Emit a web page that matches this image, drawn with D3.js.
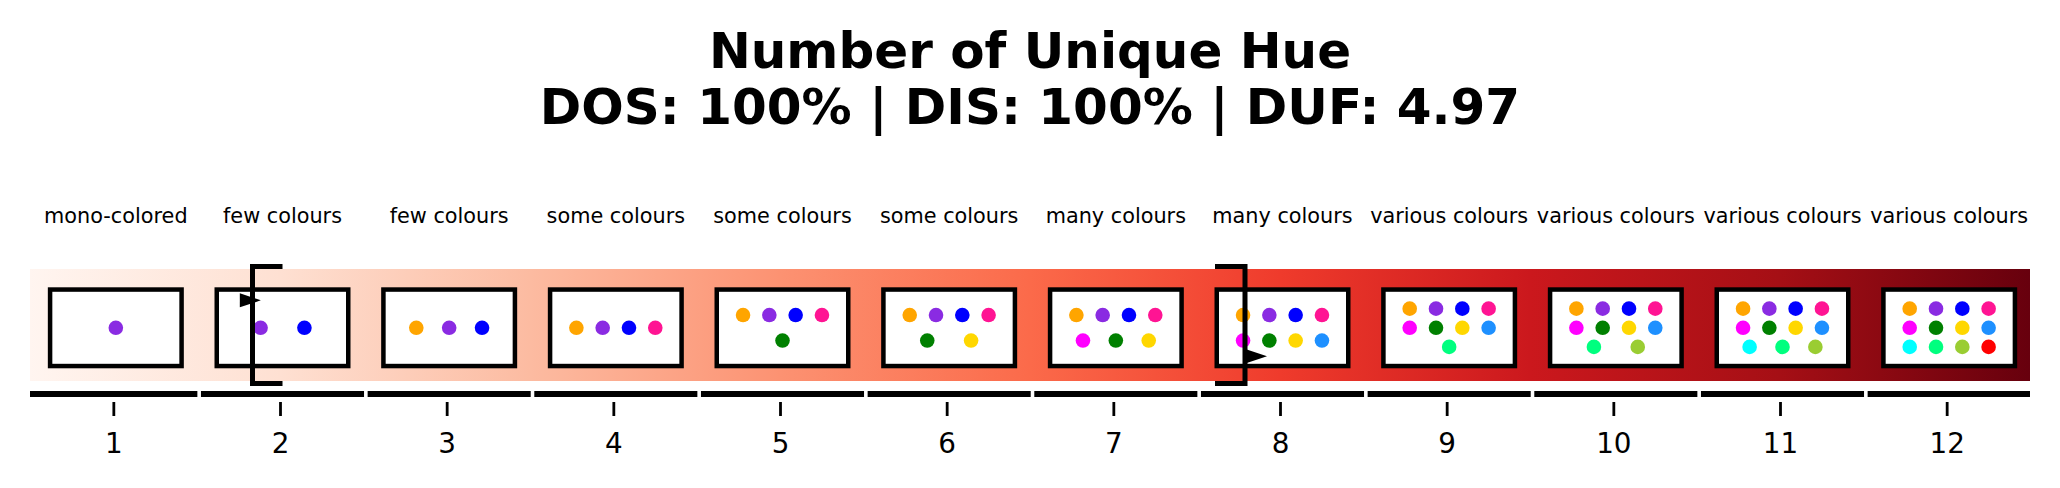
<!DOCTYPE html>
<html><head><meta charset="utf-8">
<script src="https://cdn.jsdelivr.net/npm/d3@7"></script>
<style>
body{margin:0;background:#fff}
svg{display:block}
text{font-family:"DejaVu Sans",sans-serif;fill:#000}
</style>
</head><body>
<script>
// ---------- data ----------
const titleLines = ["Number of Unique Hue", "DOS: 100% | DIS: 100% | DUF: 4.97"];
const categories = [1, 2, 3, 4, 5, 6, 7, 8, 9, 10, 11, 12];
const tickLabels = ["1", "2", "3", "4", "5", "6", "7", "8", "9", "10", "11", "12"];
const categoryLabels = ["mono-colored", "few colours", "few colours", "some colours", "some colours",
  "some colours", "many colours", "many colours", "various colours", "various colours",
  "various colours", "various colours"];
const hueSets = [
  ["blueviolet"],
  ["blueviolet", "blue"],
  ["orange", "blueviolet", "blue"],
  ["orange", "blueviolet", "blue", "deeppink"],
  ["orange", "blueviolet", "blue", "deeppink", "green"],
  ["orange", "blueviolet", "blue", "deeppink", "green", "gold"],
  ["orange", "blueviolet", "blue", "deeppink", "magenta", "green", "gold"],
  ["orange", "blueviolet", "blue", "deeppink", "magenta", "green", "gold", "dodgerblue"],
  ["orange", "blueviolet", "blue", "deeppink", "magenta", "green", "gold", "dodgerblue", "springgreen"],
  ["orange", "blueviolet", "blue", "deeppink", "magenta", "green", "gold", "dodgerblue", "springgreen", "yellowgreen"],
  ["orange", "blueviolet", "blue", "deeppink", "magenta", "green", "gold", "dodgerblue", "cyan", "springgreen", "yellowgreen"],
  ["orange", "blueviolet", "blue", "deeppink", "magenta", "green", "gold", "dodgerblue", "cyan", "springgreen", "yellowgreen", "red"]
];
const bracketX = [1.835, 7.79];      // left "[" and right "]"
const markerX = [1.822, 7.859];      // triangle markers
const markerY = [0.72, 0.22];        // in band units (0 bottom, 1 top)
const redsStops = ["#fff5f0", "#fee0d2", "#fcbba1", "#fc9272", "#fb6a4a", "#ef3b2c", "#cb181d", "#a50f15", "#67000d"];

// ---------- layout ----------
const W = 2060, H = 488;
const x = d3.scaleLinear().domain([0.5, 12.5]).range([30, 2030]);
const y = d3.scaleLinear().domain([0, 1]).range([381, 269]);
const shift = 2.5;            // boxes/segments offset relative to ticks
const boxW = 131.5, boxH = 76.5, boxCY = 327.8;
const perRow = 4, dotR = 7.3;

const svg = d3.select("body").append("svg").attr("width", W).attr("height", H);

// title
svg.append("g").selectAll("text").data(titleLines).join("text")
  .attr("x", 1030).attr("y", (d, i) => 68.3 + i * 56)
  .attr("text-anchor", "middle")
  .style("font-size", "50px").style("font-weight", "bold")
  .text(d => d);

// gradient band
const grad = svg.append("defs").append("linearGradient")
  .attr("id", "reds").attr("gradientUnits", "userSpaceOnUse")
  .attr("x1", x(0.5)).attr("x2", x(12.5)).attr("y1", 0).attr("y2", 0);
grad.selectAll("stop").data(redsStops).join("stop")
  .attr("offset", (d, i) => i / (redsStops.length - 1))
  .attr("stop-color", d => d);
svg.append("rect")
  .attr("x", x(0.5)).attr("y", y(1))
  .attr("width", x(12.5) - x(0.5)).attr("height", y(0) - y(1))
  .attr("fill", "url(#reds)");

// category labels
svg.append("g").selectAll("text").data(categories).join("text")
  .attr("x", d => x(d) + shift).attr("y", 222.7)
  .attr("text-anchor", "middle").style("font-size", "20.8px")
  .text((d, i) => categoryLabels[i]);

// broken baseline segments
const gap = 3.6;
svg.append("g").selectAll("line").data(categories).join("line")
  .attr("x1", (d, i) => i === 0 ? x(0.5) : x(d - 0.5) + shift + gap / 2)
  .attr("x2", (d, i) => i === categories.length - 1 ? x(12.5) : x(d + 0.5) + shift - gap / 2)
  .attr("y1", 394).attr("y2", 394)
  .attr("stroke", "#000").attr("stroke-width", 6);

// axis ticks + labels
const axis = d3.axisBottom(x).tickValues(categories).tickFormat((d, i) => tickLabels[i])
  .tickSize(14).tickPadding(0);
const ag = svg.append("g").attr("transform", "translate(0,402)").call(axis);
ag.select(".domain").remove();
ag.selectAll(".tick line").attr("stroke", "#000").attr("stroke-width", 2.8);
ag.selectAll(".tick text").attr("y", 0).attr("dy", 0)
  .attr("transform", "translate(0,50.7)")
  .style("font-size", "27.8px").style("font-family", "DejaVu Sans, sans-serif").attr("fill", "#000");

// boxes + dots
const cells = svg.append("g").selectAll("g").data(categories).join("g")
  .attr("transform", d => `translate(${x(d) + shift - boxW / 2},${boxCY - boxH / 2})`);
cells.append("rect")
  .attr("width", boxW).attr("height", boxH)
  .attr("fill", "#fff").attr("stroke", "#000").attr("stroke-width", 4.5);
cells.each(function (d, i) {
  const hues = hueSets[i];
  const rows = d3.range(0, hues.length, perRow).map(s => hues.slice(s, s + perRow));
  const pts = [];
  rows.forEach((row, r) => {
    row.forEach((c, j) => {
      pts.push({ cx: (j + 1) * boxW / (row.length + 1), cy: (r + 1) * boxH / (rows.length + 1), c });
    });
  });
  d3.select(this).selectAll("circle").data(pts).join("circle")
    .attr("cx", p => p.cx).attr("cy", p => p.cy).attr("r", dotR).attr("fill", p => p.c);
});

// triangle markers
const triW = 21, triH = 14;
svg.append("g").selectAll("path").data(markerX).join("path")
  .attr("d", (d, i) => {
    const cx = x(d), cy = y(markerY[i]);
    return `M${cx - triW / 2},${cy - triH / 2}L${cx + triW / 2},${cy}L${cx - triW / 2},${cy + triH / 2}Z`;
  })
  .attr("fill", "#000");

// brackets
const armLen = 0.18, bTop = 1.022, bBot = -0.022;
svg.append("g").selectAll("path").data(bracketX).join("path")
  .attr("d", (d, i) => {
    const bx = x(d), dir = i === 0 ? 1 : -1;
    const ax = x(d + dir * armLen);
    return `M${ax},${y(bTop)}H${bx}V${y(bBot)}H${ax}`;
  })
  .attr("fill", "none").attr("stroke", "#000").attr("stroke-width", 5)
  .attr("stroke-linejoin", "miter");
</script>
</body></html>
